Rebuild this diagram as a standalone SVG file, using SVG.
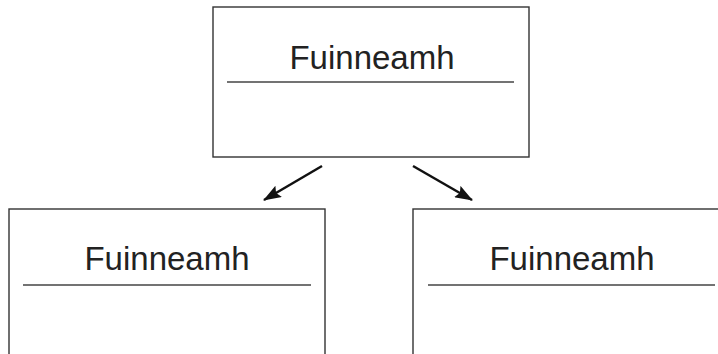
<svg xmlns="http://www.w3.org/2000/svg" width="718" height="354" viewBox="0 0 718 354">
<style>
.box{fill:#fff;stroke:#333;stroke-width:1.4}
.div{stroke:#444;stroke-width:1.4}
.lbl{font-family:"Liberation Sans",Arial,sans-serif;font-size:33px;fill:#222;text-anchor:middle}
.conn{stroke:#111;stroke-width:2.5;fill:none}
</style>
<defs>
<marker id="ah" markerWidth="18" markerHeight="13" refX="17" refY="6.5" orient="auto" markerUnits="userSpaceOnUse" viewBox="0 0 18 13">
<path d="M0,0 L18,6.5 L0,13 L3,6.5 Z" fill="#111"/>
</marker>
</defs>
<rect width="718" height="354" fill="#fff"/>
<g id="node-top">
<rect class="box" x="213" y="7" width="316" height="150"/>
<line class="div" x1="227" y1="82" x2="514" y2="82"/>
<text class="lbl" x="372" y="69">Fuinneamh</text>
</g>
<g id="node-left">
<rect class="box" x="9" y="209" width="316" height="160"/>
<line class="div" x1="23" y1="285" x2="311" y2="285"/>
<text class="lbl" x="167" y="270">Fuinneamh</text>
</g>
<g id="node-right">
<rect class="box" x="413" y="209" width="316" height="160"/>
<line class="div" x1="428" y1="285" x2="715" y2="285"/>
<text class="lbl" x="572" y="270">Fuinneamh</text>
</g>
<g id="connectors">
<line class="conn" x1="322" y1="166" x2="264" y2="200" marker-end="url(#ah)"/>
<line class="conn" x1="413" y1="166" x2="472" y2="200" marker-end="url(#ah)"/>
</g>
</svg>
